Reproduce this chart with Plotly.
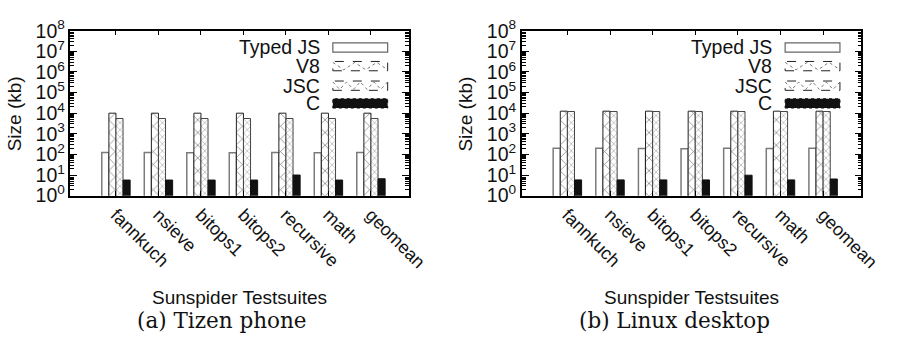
import plotly.graph_objects as go

categories = ["fannkuch", "nsieve", "bitops1", "bitops2", "recursive", "math", "geomean"]
series_names = ["Typed JS", "V8", "JSC", "C"]

# Tizen phone (kb)
tizen_typedjs = [125, 125, 120, 120, 125, 120, 122]
tizen_v8 = [10000, 10000, 10000, 10000, 10000, 10000, 10000]
tizen_jsc = [5500, 5500, 5500, 5500, 5500, 5500, 5500]
tizen_c = [5.7, 5.7, 5.7, 5.7, 10.0, 5.7, 6.6]

# Linux desktop (kb)
linux_typedjs = [200, 200, 195, 190, 200, 195, 198]
linux_v8 = [12500, 12500, 12500, 12500, 12500, 12500, 12500]
linux_jsc = [12000, 12000, 12000, 12000, 12000, 12000, 12000]
linux_c = [5.8, 5.8, 5.8, 5.8, 9.8, 5.8, 6.4]

ytickvals = [10 ** i for i in range(9)]
yticktext = ["10<sup>%d</sup>" % i for i in range(9)]

subtitles = ["(a) Tizen phone", "(b) Linux desktop"]
xtitle = "Sunspider Testsuites"
ytitle = "Size (kb)"

W, H = 903, 352
FONT = "Liberation Sans, Arial, sans-serif"

styles = [
    dict(color="white", line=dict(color="#7a7a7a", width=1.5)),
    dict(color="white", line=dict(color="#222", width=1),
         pattern=dict(shape="x", size=9, solidity=0.18, fgcolor="#222", bgcolor="white")),
    dict(color="white", line=dict(color="#444", width=1),
         pattern=dict(shape="x", size=5, solidity=0.2, fgcolor="#333", bgcolor="white")),
    dict(color="#111", line=dict(color="#111", width=1)),
]

fig = go.Figure()
datasets = [
    [tizen_typedjs, tizen_v8, tizen_jsc, tizen_c],
    [linux_typedjs, linux_v8, linux_jsc, linux_c],
]
for p, data in enumerate(datasets):
    xa = "x" if p == 0 else "x2"
    ya = "y" if p == 0 else "y2"
    for s, vals in enumerate(data):
        fig.add_trace(go.Bar(x=categories, y=vals, name=series_names[s], marker=styles[s],
                             xaxis=xa, yaxis=ya, showlegend=False, offsetgroup=str(s)))

# plot areas in pixels
px_left = [(72, 418), (533, 880)]
py_top, py_bot = 19, 196

def fx(px):
    return px / W

def fy(py):
    return 1 - py / H

axis_common = dict(showline=True, linecolor="black", linewidth=1.5, mirror="ticks",
                   ticks="inside", tickcolor="black", showgrid=False, zeroline=False)

layout = dict(
    width=W, height=H, margin=dict(l=0, r=0, t=0, b=0),
    paper_bgcolor="white", plot_bgcolor="white",
    barmode="group", bargap=0.333, bargroupgap=0,
    font=dict(family=FONT, color="#111"),
)
for p in range(2):
    l, r = px_left[p]
    sx = "" if p == 0 else "2"
    layout["xaxis" + sx] = dict(axis_common, domain=[fx(l), fx(r)], anchor="y" + sx,
                                range=[-1.07, 6.9], tickangle=45, ticklen=5,
                                tickfont=dict(family=FONT, size=18, color="#111"))
    layout["yaxis" + sx] = dict(axis_common, domain=[fy(py_bot), fy(py_top)], anchor="x" + sx,
                                type="log", range=[0, 8], tickvals=ytickvals, ticktext=yticktext,
                                ticklen=7, tickfont=dict(family=FONT, size=19.5, color="#111"),
                                minor=dict(ticks="inside", ticklen=4, tickcolor="black", dtick="D1"))
fig.update_layout(**layout)

annotations = []
shapes = []
leg_y = [37, 57, 78, 97]
for p in range(2):
    l, r = px_left[p]
    cx = (l + r) / 2
    annotations.append(dict(text=xtitle, x=fx(cx), y=fy(305), xref="paper", yref="paper",
                            showarrow=False, font=dict(family=FONT, size=19, color="#111"),
                            xanchor="center", yanchor="middle"))
    annotations.append(dict(text=ytitle, x=fx(l - 57), y=fy(108), xref="paper", yref="paper",
                            showarrow=False, textangle=-90,
                            font=dict(family=FONT, size=19, color="#111"),
                            xanchor="center", yanchor="middle"))
    annotations.append(dict(text=subtitles[p], x=fx(cx - 18), y=fy(330), xref="paper", yref="paper",
                            showarrow=False, font=dict(family="DejaVu Serif, serif", size=21.5, color="#111"),
                            xanchor="center", yanchor="middle"))
    sw_l, sw_r = r - 78, r - 22
    for i, name in enumerate(series_names):
        yc = leg_y[i]
        annotations.append(dict(text=name, x=fx(sw_l - 11), y=fy(yc), xref="paper", yref="paper",
                                showarrow=False, font=dict(family=FONT, size=19.5, color="#111"),
                                xanchor="right", yanchor="middle"))
        if i == 0:
            ln = dict(color="#666", width=1.2)
            fill = "white"
        elif i == 3:
            ln = dict(color="#111", width=1, dash="dot")
            fill = "#111"
        else:
            ln = dict(color="#222", width=1, dash="dash")
            fill = "white"
        shapes.append(dict(type="rect", xref="paper", yref="paper",
                           x0=fx(sw_l), x1=fx(sw_r), y0=fy(yc + 5), y1=fy(yc - 5),
                           line=ln, fillcolor=fill))
        if i in (1, 2):
            n = 5 if i == 1 else 8
            step = (sw_r - sw_l) / n
            path = "M %f,%f" % (fx(sw_l), fy(yc - 4))
            for k in range(1, n + 1):
                yy = yc + 4 if k % 2 else yc - 4
                path += " L %f,%f" % (fx(sw_l + k * step), fy(yy))
            shapes.append(dict(type="path", xref="paper", yref="paper", path=path,
                               line=dict(color="#555", width=0.8, dash="dot")))

fig.update_layout(annotations=annotations, shapes=shapes)
fig.write_html("out.html")
